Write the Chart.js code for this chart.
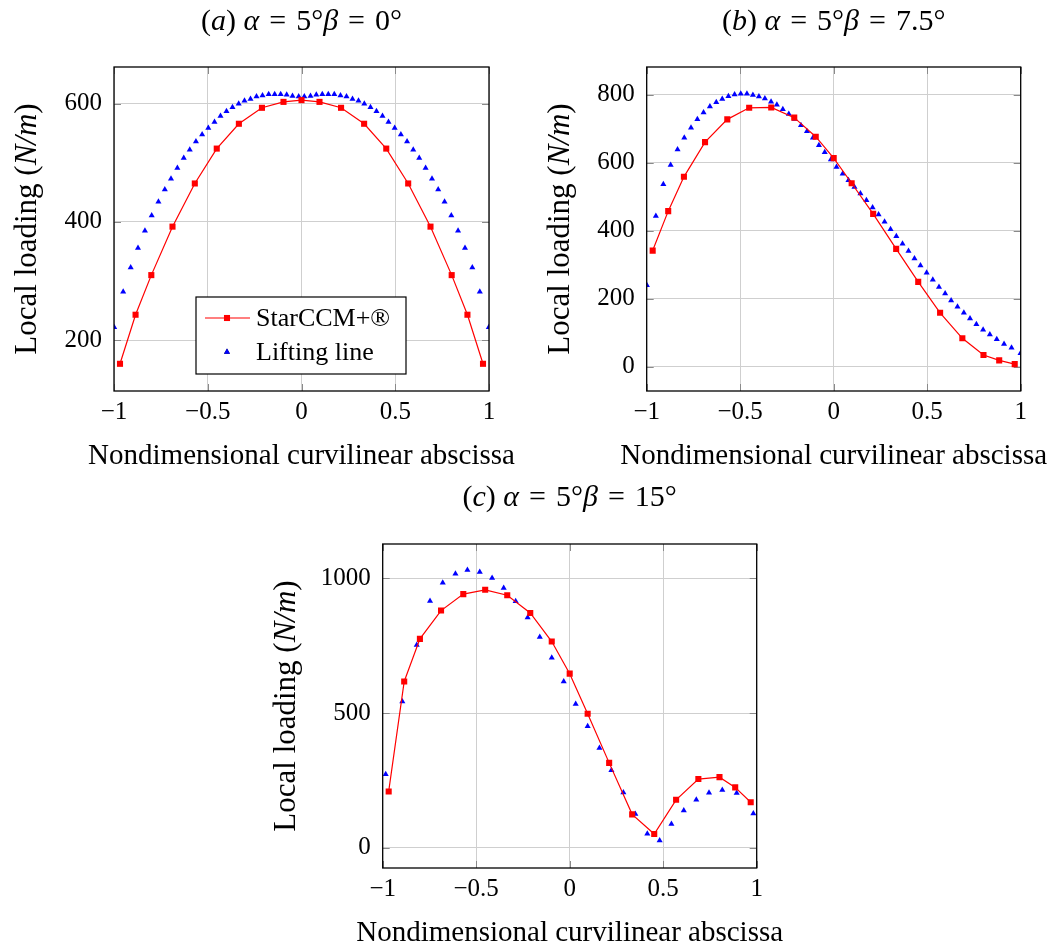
<!DOCTYPE html>
<html>
<head>
<meta charset="utf-8">
<script src="https://cdn.jsdelivr.net/npm/chart.js@4.4.1/dist/chart.umd.min.js"></script>
<style>
  body { margin: 0; background: #fff; }
  #page { position: relative; width: 1052px; height: 946px; overflow: hidden; }
  .box { position: absolute; }
</style>
</head>
<body>
<div id="page">
  <div class="box" style="left:0px;top:0px"><canvas id="chartA" width="526" height="476"></canvas></div>
  <div class="box" style="left:526px;top:0px"><canvas id="chartB" width="526" height="476"></canvas></div>
  <div class="box" style="left:250px;top:476px"><canvas id="chartC" width="550" height="470"></canvas></div>
</div>
<script>
// ---- data ----
const xTicks = [-1, -0.5, 0, 0.5, 1];
const yTicksA = [200, 400, 600];
const yTicksB = [0, 200, 400, 600, 800];
const yTicksC = [0, 500, 1000];

// StarCCM+ stations (same for the three cases)
const starX = [-0.968, -0.885, -0.801, -0.688, -0.569, -0.452, -0.334, -0.211, -0.096, 0,
               0.096, 0.211, 0.334, 0.452, 0.569, 0.688, 0.801, 0.885, 0.968];
const starA = [160, 243, 310, 392, 465, 524, 566, 593, 603, 606, 603, 593, 566, 524, 465, 392, 310, 243, 160];
const starB = [342, 458, 559, 661, 728, 762, 763, 733, 677, 614, 540, 450, 347, 250, 159, 84, 35, 19, 8];
const starC = [209, 617, 775, 880, 941, 957, 937, 871, 765, 646, 497, 315, 124, 51, 178, 255, 262, 224, 169];

// lifting line stations for (a) and (b)
const liftX = [-0.999, -0.951, -0.911, -0.872, -0.835, -0.799, -0.763, -0.729, -0.696, -0.662,
               -0.628, -0.596, -0.563, -0.530, -0.497, -0.464, -0.432, -0.400, -0.368, -0.335,
               -0.304, -0.272, -0.240, -0.208, -0.175, -0.143, -0.111, -0.079, -0.048, -0.015,
               0.015, 0.048, 0.079, 0.111, 0.143, 0.175, 0.208, 0.240, 0.272, 0.304,
               0.335, 0.368, 0.400, 0.432, 0.464, 0.497, 0.530, 0.563, 0.596, 0.628,
               0.662, 0.696, 0.729, 0.763, 0.799, 0.835, 0.872, 0.911, 0.951, 0.999];
const liftA = [222, 282, 323, 356, 385, 411, 434, 455, 473, 491,
               508, 522, 536, 548, 559, 569, 579, 587, 594, 600,
               605, 608, 612, 614, 616, 616, 616, 615, 613, 612,
               612, 613, 615, 616, 616, 616, 614, 612, 608, 605,
               600, 594, 587, 579, 569, 559, 548, 536, 522, 508,
               491, 473, 455, 434, 411, 385, 356, 323, 282, 222];
const liftB = [240, 444, 537, 594, 639, 674, 703, 728, 748, 766,
               778, 788, 796, 801, 803, 803, 800, 795, 789, 780,
               771, 758, 744, 729, 711, 693, 674, 652, 631, 610,
               588, 568, 549, 529, 510, 490, 469, 448, 427, 405,
               384, 362, 341, 319, 298, 277, 256, 235, 216, 195,
               177, 159, 142, 125, 109, 95, 81, 67, 56, 40];

// lifting line stations for (c)
const liftXC = [-0.984, -0.895, -0.818, -0.747, -0.679, -0.611, -0.547, -0.481, -0.415, -0.353,
                -0.289, -0.225, -0.160, -0.096, -0.032, 0.032, 0.096, 0.159, 0.223, 0.287,
                0.351, 0.415, 0.481, 0.544, 0.610, 0.677, 0.745, 0.816, 0.893, 0.982];
const liftC = [273, 543, 752, 916, 983, 1017, 1031, 1023, 1001, 964,
               915, 854, 782, 705, 617, 533, 451, 370, 288, 205,
               125, 52, 27, 88, 138, 178, 204, 214, 203, 127];

const FONT = "'Liberation Serif', 'Times New Roman', serif";
const EQ = '\u2004=\u2004';

function pts(xs, ys) {
  return xs.map((x, i) => ({ x: x, y: ys[i] }));
}

function fmtTick(v) {
  return v < 0 ? '\u2212' + Math.abs(v) : String(v);
}

// draws a line of text made of [text, italic] parts, centred on (x, y)
function drawRich(ctx, parts, x, y, angle, size) {
  ctx.save();
  ctx.translate(x, y);
  ctx.rotate(angle);
  ctx.textBaseline = 'middle';
  ctx.textAlign = 'left';
  ctx.fillStyle = '#000';
  let total = 0;
  parts.forEach(p => {
    ctx.font = (p[1] ? 'italic ' : '') + size + 'px ' + FONT;
    total += ctx.measureText(p[0]).width;
  });
  let cx = -total / 2;
  parts.forEach(p => {
    ctx.font = (p[1] ? 'italic ' : '') + size + 'px ' + FONT;
    ctx.fillText(p[0], cx, 0);
    cx += ctx.measureText(p[0]).width;
  });
  ctx.restore();
}

const framePlugin = {
  id: 'frame',
  beforeDatasetsDraw(chart) {
    // pgfplots style tick marks on the inside of all four sides
    const ctx = chart.ctx, a = chart.chartArea;
    const len = 7;
    ctx.save();
    ctx.strokeStyle = '#8a8a8a';
    ctx.lineWidth = 1;
    ctx.beginPath();
    chart.scales.x.ticks.forEach(t => {
      const px = Math.round(chart.scales.x.getPixelForValue(t.value)) + 0.5;
      ctx.moveTo(px, a.bottom); ctx.lineTo(px, a.bottom - len);
      ctx.moveTo(px, a.top); ctx.lineTo(px, a.top + len);
    });
    chart.scales.y.ticks.forEach(t => {
      const py = Math.round(chart.scales.y.getPixelForValue(t.value)) + 0.5;
      ctx.moveTo(a.left, py); ctx.lineTo(a.left + len, py);
      ctx.moveTo(a.right, py); ctx.lineTo(a.right - len, py);
    });
    ctx.stroke();
    ctx.restore();
  },
  afterDraw(chart, args, opts) {
    const ctx = chart.ctx, a = chart.chartArea;
    ctx.save();
    ctx.strokeStyle = '#000';
    ctx.lineWidth = 1.3;
    ctx.strokeRect(a.left, a.top, a.right - a.left, a.bottom - a.top);
    ctx.restore();

    const mid = (a.left + a.right) / 2;
    drawRich(ctx, opts.title, mid, opts.titleY, 0, 30);
    drawRich(ctx, opts.xlabel, mid, a.bottom + opts.xlabelGap, 0, 29);
    drawRich(ctx, opts.ylabel, a.left - opts.ylabelGap, (a.top + a.bottom) / 2, -Math.PI / 2, 31);

    if (opts.legend) {
      const L = opts.legend;
      ctx.save();
      ctx.fillStyle = '#fff';
      ctx.fillRect(L.x, L.y, L.w, L.h);
      ctx.strokeStyle = '#000';
      ctx.lineWidth = 1.2;
      ctx.strokeRect(L.x, L.y, L.w, L.h);
      chart.data.datasets.forEach((ds, i) => {
        const ry = L.y + L.rowTop + i * L.rowGap;
        const mx = L.x + 31;
        if (ds.showLine) {
          ctx.strokeStyle = ds.borderColor;
          ctx.lineWidth = ds.borderWidth;
          ctx.beginPath();
          ctx.moveTo(L.x + 9, ry); ctx.lineTo(L.x + 54, ry);
          ctx.stroke();
        }
        Chart.helpers.drawPoint(ctx, {
          pointStyle: ds.pointStyle, radius: ds.pointRadius, rotation: 0, borderWidth: 0
        }, mx, ry);
        ctx.fillStyle = ds.pointBackgroundColor;
        ctx.fill();
        ctx.fillStyle = '#000';
        ctx.font = '26px ' + FONT;
        ctx.textBaseline = 'middle';
        ctx.fillText(ds.label, L.x + 60, ry + 1);
      });
      ctx.restore();
    }
  }
};

function starSet(data) {
  return {
    label: 'StarCCM+\u00AE',
    data: data,
    showLine: true,
    borderColor: '#ff0000',
    borderWidth: 1.2,
    pointStyle: 'rect',
    pointRadius: 4.3,
    pointBackgroundColor: '#ff0000',
    pointBorderColor: '#ff0000',
    pointBorderWidth: 0,
    order: 1
  };
}

function liftSet(data) {
  return {
    label: 'Lifting line',
    data: data,
    showLine: false,
    borderColor: '#0000ff',
    borderWidth: 0,
    pointStyle: 'triangle',
    pointRadius: 3.5,
    pointBackgroundColor: '#0000ff',
    pointBorderColor: '#0000ff',
    pointBorderWidth: 0,
    order: 2
  };
}

function makeChart(id, cfg) {
  const canvas = document.getElementById(id);
  const W = canvas.width, H = canvas.height;
  const xAxisH = 40;
  return new Chart(canvas, {
    type: 'scatter',
    data: { datasets: [starSet(cfg.star), liftSet(cfg.lift)] },
    options: {
      responsive: false,
      animation: false,
      events: [],
      layout: {
        padding: { left: 0, top: cfg.area.top, right: W - cfg.area.right, bottom: H - cfg.area.bottom - xAxisH }
      },
      plugins: {
        legend: { display: false },
        tooltip: { enabled: false },
        frame: {
          title: cfg.title,
          titleY: 22,
          xlabel: [['Nondimensional curvilinear abscissa', false]],
          xlabelGap: 65,
          ylabel: [['Local loading (', false], ['N/m', true], [')', false]],
          ylabelGap: cfg.ylabelGap,
          legend: cfg.legend || null
        }
      },
      scales: {
        x: {
          type: 'linear',
          min: -1, max: 1,
          afterBuildTicks: s => { s.ticks = xTicks.map(v => ({ value: v })); },
          afterFit: s => { s.height = xAxisH; },
          grid: { color: '#cfcfcf', lineWidth: 1, drawTicks: false },
          border: { display: false },
          ticks: { padding: 6, color: '#000', font: { family: FONT, size: 25 }, callback: fmtTick, maxRotation: 0 }
        },
        y: {
          type: 'linear',
          min: cfg.yMin, max: cfg.yMax,
          afterBuildTicks: s => { s.ticks = cfg.yTicks.map(v => ({ value: v })); },
          afterFit: s => { s.width = cfg.area.left; },
          grid: { color: '#cfcfcf', lineWidth: 1, drawTicks: false },
          border: { display: false },
          ticks: { padding: 12, color: '#000', font: { family: FONT, size: 25 }, callback: fmtTick }
        }
      }
    },
    plugins: [framePlugin]
  });
}

makeChart('chartA', {
  star: pts(starX, starA),
  lift: pts(liftX, liftA),
  yMin: 114, yMax: 662,
  yTicks: yTicksA,
  area: { left: 114, top: 67, right: 489, bottom: 391 },
  ylabelGap: 86,
  title: [['(', false], ['a', true], [') ', false], ['\u03B1', true], [EQ + '5\u00B0', false], ['\u03B2', true], [EQ + '0\u00B0', false]],
  legend: { x: 196, y: 297, w: 210, h: 77, rowTop: 21, rowGap: 34 }
});

makeChart('chartB', {
  star: pts(starX, starB),
  lift: pts(liftX, liftB),
  yMin: -71, yMax: 882,
  yTicks: yTicksB,
  area: { left: 120.7, top: 67, right: 494.7, bottom: 391 },
  ylabelGap: 86,
  title: [['(', false], ['b', true], [') ', false], ['\u03B1', true], [EQ + '5\u00B0', false], ['\u03B2', true], [EQ + '7.5\u00B0', false]]
});

makeChart('chartC', {
  star: pts(starX, starC),
  lift: pts(liftXC, liftC),
  yMin: -75, yMax: 1127,
  yTicks: yTicksC,
  area: { left: 132.7, top: 68, right: 506.7, bottom: 392 },
  ylabelGap: 96,
  title: [['(', false], ['c', true], [') ', false], ['\u03B1', true], [EQ + '5\u00B0', false], ['\u03B2', true], [EQ + '15\u00B0', false]]
});
</script>
</body>
</html>
